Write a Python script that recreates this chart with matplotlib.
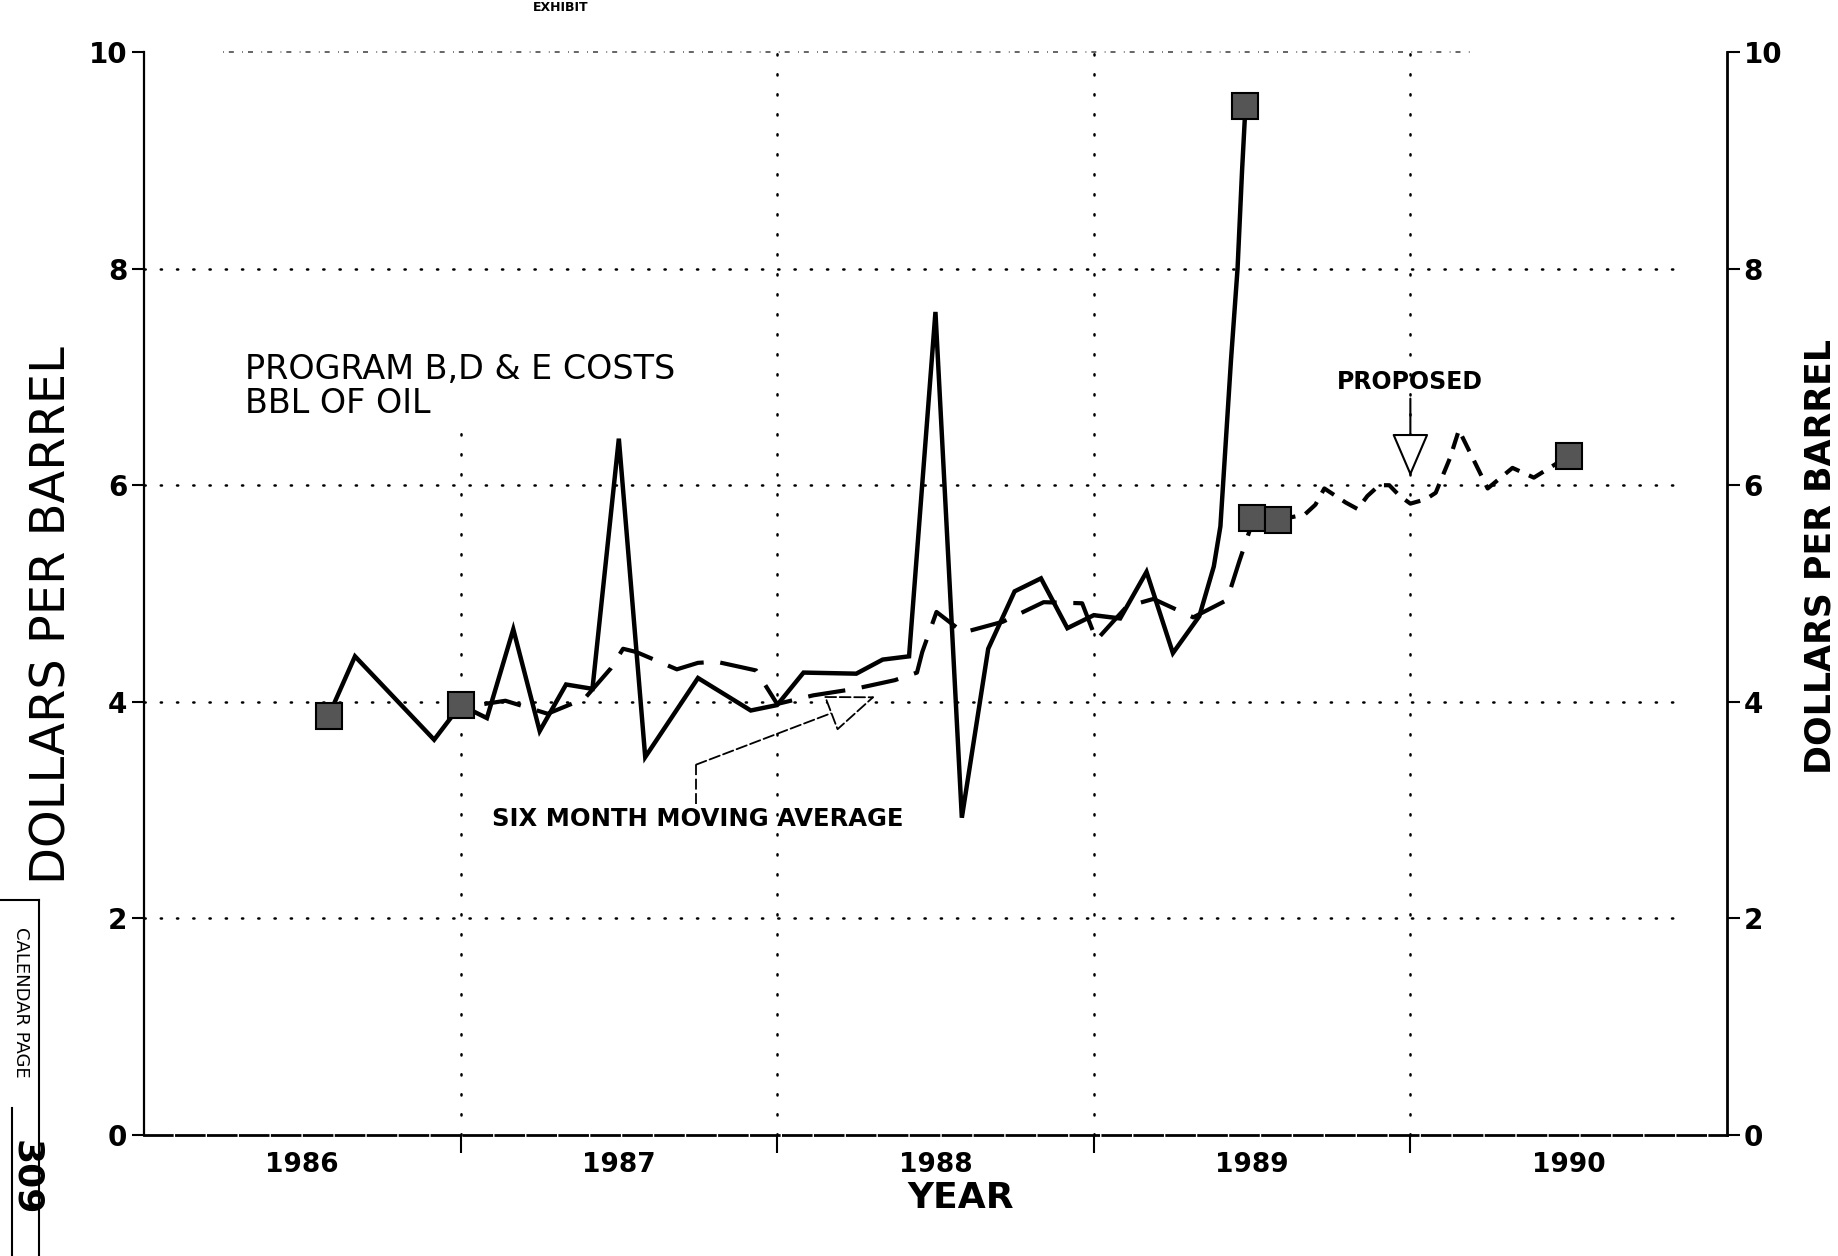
import matplotlib
matplotlib.use("Agg")
import matplotlib.pyplot as plt
from matplotlib.lines import Line2D

plt.rcParams['font.family'] = ['DejaVu Sans']

# months counted from January 1986 (0 = Jan 1986)
cost_months = [7, 8, 11, 12, 13, 14, 15, 16, 17, 18, 19, 21, 23, 24,
               25, 27, 28, 29, 30, 31, 32, 33, 34, 35, 36, 37, 38, 39,
               40, 40.55, 40.8, 41.2, 41.45, 41.62, 41.75]
cost_values = [3.87, 4.42, 3.65, 3.97, 3.85, 4.67, 3.73, 4.16, 4.12, 6.43, 3.49, 4.22, 3.92, 3.97,
               4.27, 4.26, 4.39, 4.42, 7.60, 2.93, 4.49, 5.02, 5.14, 4.68, 4.80, 4.77, 5.20, 4.45,
               4.79, 5.25, 5.62, 7.15, 8.00, 8.90, 9.50]

# six month moving average
avg_months = [12.9, 13.7, 15.3, 16.7, 17.7, 18.16, 18.66, 20.2, 21.0, 21.7, 23.2, 24.0,
              25.37, 26.95, 28.46, 29.3, 29.5, 30.04, 31.05, 32.56, 34.1, 35.56, 36.1,
              37.25, 38.26, 39.77, 41.05, 41.52, 41.92, 42]
avg_values = [3.98, 4.01, 3.89, 4.03, 4.31, 4.49, 4.46, 4.30, 4.36, 4.37, 4.29, 3.98,
              4.06, 4.12, 4.20, 4.27, 4.46, 4.83, 4.64, 4.74, 4.92, 4.91, 4.57,
              4.88, 4.95, 4.78, 4.94, 5.30, 5.59, 5.70]

# proposed
prop_months = [42, 43, 44, 44.4, 44.74, 45.55, 46.0, 46.37, 46.82, 47.2, 47.6, 48.0,
               48.58, 48.96, 49.5, 49.84, 50.93, 51.87, 52.68, 54]
prop_values = [5.70, 5.68, 5.73, 5.82, 5.97, 5.84, 5.78, 5.90, 6.00, 6.00, 5.90, 5.83,
               5.87, 5.93, 6.25, 6.51, 5.97, 6.16, 6.07, 6.27]

square_months = [7, 12, 41.75, 42, 43, 54]
square_values = [3.87, 3.97, 9.50, 5.70, 5.68, 6.27]

year_labels = ['1986', '1987', '1988', '1989', '1990']
year_edges = [1987, 1988, 1989, 1990]
y_ticks = [0, 2, 4, 6, 8, 10]


def to_year(months):
    return [1986 + m / 12 for m in months]


fig = plt.figure(figsize=(18.38, 12.56), dpi=100)
ax = fig.add_axes([0.0783, 0.0963, 0.8613, 0.8623])
ax.set_xlim(1986, 1991)
ax.set_ylim(0, 10)

# dotted grid
dots = dict(color='black', lw=1.8, dash_capstyle='round', zorder=1, clip_on=False)
for y in [2, 4, 6, 8]:
    ax.plot([1986.0, 1990.85], [y, y], ls=(0, (0.5, 6)), **dots)
ax.plot([1986.25, 1990.2], [10, 10], ls=(0, (0.5, 3, 3, 5)), color='black', lw=1.2,
        alpha=0.7, zorder=1, clip_on=False)
for x, top in zip(year_edges, [6.6, 10, 10, 10]):
    ax.plot([x, x], [0, top], ls=(0, (0.5, 7.5)), **dots)

ax.plot(to_year(cost_months), cost_values, color='black', lw=3.2,
        solid_joinstyle='miter', zorder=4)
ax.plot(to_year(avg_months), avg_values, color='black', lw=3.0,
        ls=(0, (9, 4)), zorder=3)
ax.plot(to_year(prop_months), prop_values, color='black', lw=3.0,
        ls=(0, (4, 2.5)), zorder=3)
ax.plot(to_year(square_months), square_values, ls='none', marker='s', ms=19,
        mfc='#555555', mec='black', mew=1.5, zorder=6)

# annotations
ax.text(1986.32, 7.22, 'PROGRAM B,D & E COSTS\nBBL OF OIL', fontsize=24,
        ha='left', va='top', linespacing=1.05, zorder=5)
ax.text(1987.75, 2.92, 'SIX MONTH MOVING AVERAGE', fontsize=17.5, fontweight='bold',
        ha='center', va='center', zorder=5)
ax.plot([1987.744, 1987.744], [3.06, 3.42], color='black', lw=1.3, ls=(0, (6, 2)))
ax.annotate('', xy=(1988.31, 4.05), xytext=(1987.744, 3.42),
            arrowprops=dict(arrowstyle='-|>,head_length=1.6,head_width=0.62',
                            mutation_scale=20, fc='white', ec='black', lw=1.3,
                            ls=(0, (6, 2)), shrinkA=0, shrinkB=0))
ax.text(1990.0, 6.95, 'PROPOSED', fontsize=17, fontweight='bold',
        ha='center', va='center', zorder=5)
ax.annotate('', xy=(1990.0, 6.08), xytext=(1990.0, 6.8),
            arrowprops=dict(arrowstyle='-|>,head_length=1.4,head_width=0.6',
                            mutation_scale=20, fc='white', ec='black', lw=1.5,
                            shrinkA=0, shrinkB=0))

# axes and ticks
ax.set_yticks(y_ticks)
ax.tick_params(axis='y', direction='out', length=9, width=1.5, labelsize=20, pad=3)
ax.set_xticks(year_edges)
ax.set_xticklabels([])
ax.set_xticks([1986.5, 1987.5, 1988.5, 1989.5, 1990.5], minor=True)
ax.set_xticklabels(year_labels, minor=True)
ax.tick_params(axis='x', which='major', direction='out', length=13, width=1.5)
ax.tick_params(axis='x', which='minor', length=0, pad=12, labelsize=19)

ax2 = ax.twinx()
ax2.set_ylim(0, 10)
ax2.set_yticks(y_ticks)
ax2.tick_params(axis='y', direction='out', length=9, width=1.5, labelsize=20, pad=3)

for t in ax.get_yticklabels() + ax2.get_yticklabels() + ax.get_xticklabels(minor=True):
    t.set_fontweight('bold')

for a in (ax, ax2):
    a.spines['top'].set_visible(False)
ax.spines['right'].set_visible(False)
ax2.spines['left'].set_visible(False)
ax2.spines['bottom'].set_visible(False)
ax.spines['left'].set_linewidth(1.6)
ax2.spines['right'].set_linewidth(2.0)
ax.spines['bottom'].set_linewidth(2.0)
ax.spines['bottom'].set_linestyle((0, (10, 1.5)))

ax.set_xlabel('YEAR', fontsize=26, fontweight='bold')
ax.xaxis.label.set_va('center')
ax.xaxis.set_label_coords(0.516, -0.058)
ax.set_ylabel('DOLLARS PER BARREL', fontsize=34.5)
ax.yaxis.label.set_va('center')
ax.yaxis.set_label_coords(-0.058, 0.48)
ax2.set_ylabel('DOLLARS PER BARREL', fontsize=25, fontweight='bold', rotation=90)
ax2.yaxis.label.set_va('center')
ax2.yaxis.set_label_coords(1.0588, 0.534)

# page marks of the scanned sheet
fig.text(0.29, 0.999, 'EXHIBIT', fontsize=9, fontweight='bold', ha='left', va='top')
fig.add_artist(Line2D([0, 39 / 1838], [1 - 900 / 1256] * 2, color='black', lw=1.5))
fig.add_artist(Line2D([39 / 1838] * 2, [1 - 900 / 1256, 0], color='black', lw=1.5))
fig.add_artist(Line2D([12 / 1838] * 2, [1 - 1108 / 1256, 0], color='black', lw=1.5))
fig.text(21 / 1838, 1 - 1002 / 1256, 'CALENDAR PAGE', fontsize=13, rotation=-90,
         ha='center', va='center')
fig.text(26 / 1838, 1 - 1178 / 1256, '309', fontsize=26, fontweight='bold', rotation=-90,
         ha='center', va='center')

fig.savefig('out.png', dpi=100)
